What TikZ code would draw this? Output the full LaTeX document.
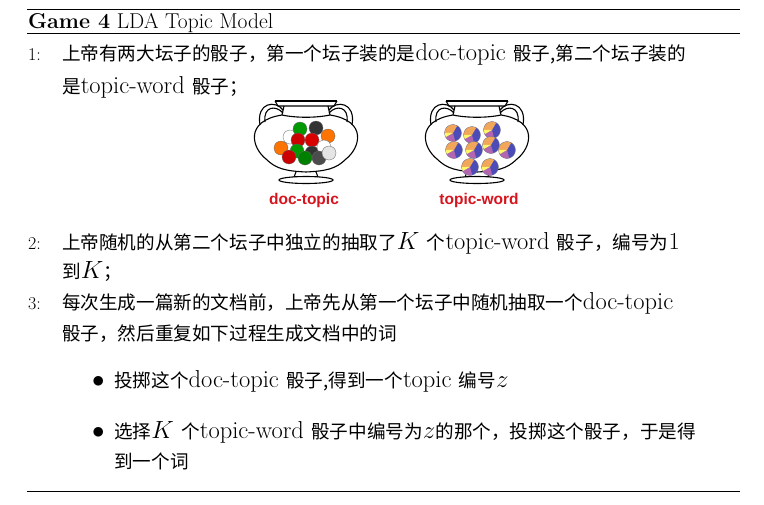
\documentclass[tikz,border=0pt]{standalone}
\usepackage{fontspec}
\newfontfamily\zhf{Noto Sans CJK SC}
\newfontfamily\lbl{Liberation Sans}
\newcommand{\zh}[1]{{\zhf\fontsize{18.6}{20}\selectfont #1}}
\definecolor{lblred}{RGB}{215,20,30}
\tikzset{
  ln/.style={anchor=base west,inner sep=0pt,font=\fontsize{24.5}{26}\selectfont},
  num/.style={anchor=base west,inner sep=0pt,font=\fontsize{18}{20}\selectfont},
  urnlbl/.style={inner sep=0pt,font=\lbl\bfseries\fontsize{15.5}{17}\selectfont,text=lblred},
  urnline/.style={line width=1.1pt,black},
  die/.style={circle,minimum size=14pt,inner sep=0pt,draw=black!60,line width=0.3pt},
  pic/.pic={
    \fill[blue!60!black!70] (0,0) circle (8.5);
    \fill[orange!70!brown!70] (0,0) -- (-8.5,0) arc (180:300:8.5) -- cycle;
    \fill[violet!60] (0,0) -- (2.2,8.2) arc (75:150:8.5) -- cycle;
    \fill[yellow!60!white] (0,0) -- (-7.4,4.2) arc (150:180:8.5) -- cycle;
    \draw[gray,line width=0.3pt] (0,0) circle (8.5);
  },
  urn/.pic={
    \draw[urnline] (-31,-42) -- (31,-42);
    \draw[urnline] (-31,-42) -- (-28,-37) -- (28,-37) -- (31,-42);
    \draw[urnline] (-22,-37) -- (-24,-28);
    \draw[urnline] (22,-37) -- (24,-28);
    \draw[urnline] (-24,-28) .. controls (-62,-22) and (-54,5) .. (-40,16) .. controls (-30,26) and (-20,28) .. (0,29) .. controls (20,28) and (30,26) .. (40,16) .. controls (54,5) and (62,-22) .. (24,-28);
    \draw[urnline] (-24,-28) .. controls (-10,-25) and (10,-25) .. (24,-28);
    \draw[urnline] (-23,-33) .. controls (-30,-43) and (-50,-41) .. (-46,-18);
    \draw[urnline] (-23,-30) .. controls (-30,-38) and (-43,-37) .. (-41,-21);
    \draw[urnline] (23,-33) .. controls (30,-43) and (50,-41) .. (46,-18);
    \draw[urnline] (23,-30) .. controls (30,-38) and (43,-37) .. (41,-21);
    \draw[urnline] (-10,29) -- (-12,34);
    \draw[urnline] (10,29) -- (12,34);
    \draw[urnline] (0,37) ellipse (27 and 3.5);
  }
}
\begin{document}
\begin{tikzpicture}[x=1pt,y=-1pt]
\useasboundingbox (0,0) rectangle (764,504);
\draw[line width=0.9pt] (27,9) -- (740,9);
\draw[line width=0.5pt] (27,33) -- (740,33);
\draw[line width=0.9pt] (27,491) -- (740,491);
\node[anchor=base west,inner sep=0pt,font=\fontsize{21.5}{23}\selectfont] (title) at (28,28) {\textbf{Game 4} LDA Topic Model};

\node[num] (n1) at (28,60) {1:};
\node[ln] (l1a) at (62,60) {\zh{上帝有两大坛子的骰子，第一个坛子装的是}doc-topic \zh{骰子,第二个坛子装的}};
\node[ln] (l1b) at (62,93) {\zh{是}topic-word \zh{骰子；}};

\pic at (306,143) {urn};
\foreach \x/\y/\c in {290/137/white,300/129/green!60!black,316/128/black!80,328/136/orange!90!red,298/140/red!80!black,312/140/red!85!black,281/148/orange!90!red,297/151/green!60!black,312/153/black!80,324/147/white,289/157/red!80!black,305/158/green!50!black,319/158/black!70,329/153/gray!20}
  \node[die,fill=\c] at (\x,\y) {};
\node[urnlbl] (u1) at (304,200) {doc-topic};

\pic at (477,143) {urn};
\foreach \x/\y in {453/133,472/135,492/130,454/150,474/150,491/145,507/150,470/167,490/167}
  \pic at (\x,\y) {pic};
\node[urnlbl] (u2) at (479,200) {topic-word};

\node[num] (n2) at (28,249) {2:};
\node[ln] (l2a) at (62,249) {\zh{上帝随机的从第二个坛子中独立的抽取了}$K$ \zh{个}topic-word \zh{骰子，编号为}1};
\node[ln] (l2b) at (62,278) {\zh{到}$K$\zh{；}};

\node[num] (n3) at (28,309) {3:};
\node[ln] (l3a) at (62,309) {\zh{每次生成一篇新的文档前，上帝先从第一个坛子中随机抽取一个}doc-topic};
\node[ln] (l3b) at (62,340) {\zh{骰子，然后重复如下过程生成文档中的词}};

\node[ln] (b1) at (92,387) {$\bullet$};
\node[ln] (t1) at (114,387) {\zh{投掷这个}doc-topic \zh{骰子,得到一个}topic \zh{编号}$z$};
\node[ln] (b2) at (92,438) {$\bullet$};
\node[ln] (t2a) at (114,438) {\zh{选择}$K$ \zh{个}topic-word \zh{骰子中编号为}$z$\zh{的那个，投掷这个骰子，于是得}};
\node[ln] (t2b) at (114,468) {\zh{到一个词}};
\end{tikzpicture}
\end{document}
